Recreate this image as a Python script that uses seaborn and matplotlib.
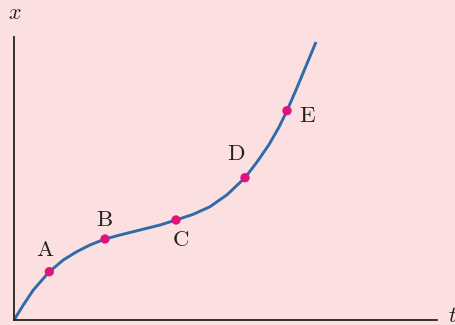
import numpy as np
import pandas as pd
import matplotlib
matplotlib.use('Agg')
import matplotlib.pyplot as plt
import seaborn as sns

# curve (t, x)
t_vals = [0.0, 0.93, 1.93, 3.53, 4.93, 6.27, 7.6, 9.1, 10.6, 12.6, 14.6, 16.2,
          17.9, 19.6, 21.3, 23.1, 24.3, 25.5, 26.5, 27.3, 28.2, 29.2, 30.2]
x_vals = [0.0, 1.5, 3.0, 4.83, 6.0, 6.83, 7.5, 8.1, 8.5, 9.0, 9.5, 10.0,
          10.56, 11.33, 12.52, 14.23, 15.8, 17.54, 19.29, 20.93, 23.0, 25.4, 27.8]

# labelled points
pt_names = ['A', 'B', 'C', 'D', 'E']
pt_t = [3.53, 9.1, 16.2, 23.1, 27.3]
pt_x = [4.83, 8.1, 10.0, 14.23, 20.93]
lab_t = [3.1, 9.0, 16.7, 22.2, 29.3]
lab_x = [7.1, 10.0, 8.1, 16.7, 20.5]

bg = '#fce0e1'
plt.rcParams['mathtext.fontset'] = 'cm'

fig = plt.figure(figsize=(4.55, 3.25), dpi=100, facecolor=bg)
ax = fig.add_axes([14 / 455, 5 / 325, 423 / 455, 283 / 325])
ax.set_facecolor(bg)

curve = pd.DataFrame({'t': t_vals, 'x': x_vals})
sns.lineplot(data=curve, x='t', y='x', sort=False, estimator=None,
             color='#2f6aa9', linewidth=2.1, solid_joinstyle='round',
             solid_capstyle='butt', ax=ax)
sns.scatterplot(x=pt_t, y=pt_x, color='#e0127c', s=45, edgecolor='none',
                zorder=5, ax=ax)

for name, lt, lx in zip(pt_names, lab_t, lab_x):
    ax.text(lt, lx, r'$\mathrm{%s}$' % name, fontsize=16.5, color='#222222',
            ha='center', va='center')

ax.set_xlim(0, 42.3)
ax.set_ylim(0, 28.3)
ax.set_xticks([])
ax.set_yticks([])
ax.set_xlabel('')
ax.set_ylabel('')
for s in ['top', 'right']:
    ax.spines[s].set_visible(False)
for s in ['left', 'bottom']:
    ax.spines[s].set_color('#222222')
    ax.spines[s].set_linewidth(1.3)

ax.text(0.05, 30.7, r'$x$', fontsize=16, color='#222222', ha='center', va='center', clip_on=False)
# the reference cuts the "t" at the right edge as well
ax.text(43.9, 0.4, r'$t$', fontsize=16, color='#222222', ha='center', va='center', clip_on=False)

fig.savefig('out.png', dpi=100, facecolor=bg)
